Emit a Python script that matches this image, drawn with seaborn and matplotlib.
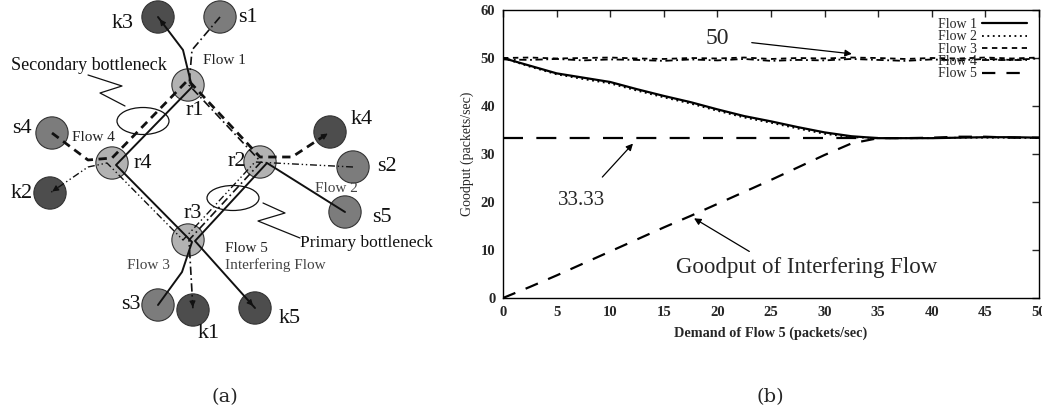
import numpy as np
import pandas as pd
import matplotlib
matplotlib.use('Agg')
import matplotlib.pyplot as plt
import seaborn as sns
from matplotlib.patches import Ellipse

# dados do grafico (b)
demanda = [0, 2.5, 5, 7.5, 10, 12.5, 15, 17.5, 20, 22.5, 25, 27.5, 30, 32.5, 35, 37.5, 40, 42.5, 45, 47.5, 50]
flow1 = [50.0, 48.4, 46.8, 45.9, 45.0, 43.5, 42.1, 40.8, 39.3, 37.9, 36.8, 35.6, 34.5, 33.7, 33.3, 33.3, 33.3, 33.4, 33.5, 33.5, 33.4]
flow2 = [50.0, 48.2, 46.6, 45.6, 44.7, 43.2, 41.8, 40.5, 39.0, 37.6, 36.5, 35.3, 34.2, 33.5, 33.3, 33.3, 33.3, 33.4, 33.4, 33.4, 33.3]
flow3 = [50.0, 50.1, 49.9, 50.0, 50.1, 49.9, 49.8, 50.0, 49.9, 50.1, 49.8, 50.0, 49.9, 50.1, 50.0, 49.8, 50.0, 49.9, 50.1, 49.9, 50.1]
flow4 = [49.7, 49.6, 49.8, 49.5, 49.7, 49.6, 49.4, 49.7, 49.5, 49.8, 49.4, 49.6, 49.5, 49.8, 49.6, 49.4, 49.7, 49.5, 49.8, 49.6, 49.9]
flow5 = [0.0, 2.3, 4.7, 7.2, 9.7, 12.2, 14.7, 17.1, 19.6, 22.1, 24.6, 27.2, 29.8, 32.2, 33.3, 33.3, 33.4, 33.6, 33.6, 33.4, 33.4]
fair_share = 33.33
fair_share_fim = 35

# dados do diagrama (a)
nos = ['k3', 's1', 'r1', 'r4', 'r2', 'r3', 's4', 'k2', 'k4', 's2', 's5', 's3', 'k1', 'k5']
nos_x = [158, 220, 188, 112, 260, 188, 52, 50, 330, 353, 345, 158, 193, 255]
nos_y = [17, 17, 85, 163, 162, 240, 133, 193, 132, 167, 212, 305, 310, 308]
nos_tipo = ['sink', 'fonte', 'router', 'router', 'router', 'router', 'fonte', 'sink',
            'sink', 'fonte', 'fonte', 'fonte', 'sink', 'sink']
rotas = {
    'Flow 1': ['s1', 'r1', 'r2', 'r3', 'k1'],
    'Flow 2': ['s2', 'r2', 'r3', 'r4', 'k2'],
    'Flow 3': ['s3', 'r3', 'r4', 'r1', 'k3'],
    'Flow 4': ['s4', 'r4', 'r1', 'r2', 'k4'],
    'Flow 5': ['s5', 'r2', 'r3', 'k5'],
}

sns.set_style('white')
plt.rcParams['font.family'] = ['Liberation Serif', 'DejaVu Serif']

fig = plt.figure(figsize=(10.42, 4.15), dpi=100)

# ---------------- (a) diagrama ----------------
ax_a = fig.add_axes([0, 0, 437 / 1042, 1])
ax_a.set_xlim(0, 437)
ax_a.set_ylim(415, 0)
ax_a.axis('off')

pos = dict(zip(nos, zip(nos_x, nos_y)))
desvio = {'Flow 1': (1, 0), 'Flow 2': (-5, 0), 'Flow 3': (4, 2), 'Flow 4': (0, -5), 'Flow 5': (7, 1)}
dobra = {'s1': (192, 50), 'k3': (183, 50), 's3': (182, 272), 's4': (88, 160),
         'k2': (88, 167), 'k4': (292, 157)}
estilo = {
    'Flow 1': dict(ls=(0, (5, 2, 1, 2)), lw=1.2),
    'Flow 2': dict(ls=(0, (5, 2, 1, 2, 1, 2)), lw=1.0),
    'Flow 3': dict(ls='-', lw=1.4),
    'Flow 4': dict(ls=(0, (3, 2)), lw=2.0),
    'Flow 5': dict(ls='-', lw=1.4),
}

df_nos = pd.DataFrame({'x': nos_x, 'y': nos_y, 'tipo': nos_tipo})
sns.scatterplot(data=df_nos, x='x', y='y', hue='tipo', s=540, edgecolor='#333333', linewidth=0.8,
                palette={'sink': '#4d4d4d', 'fonte': '#7c7c7c', 'router': '#b2b2b2'},
                legend=False, ax=ax_a, zorder=2)
ax_a.set_xlabel('')
ax_a.set_ylabel('')

for flow, rota in rotas.items():
    dx, dy = desvio[flow]
    pts = [pos[rota[0]]]
    if rota[0] in dobra:
        pts.append(dobra[rota[0]])
    for r in rota[1:-1]:
        pts.append((pos[r][0] + dx, pos[r][1] + dy))
    if rota[-1] in dobra:
        pts.append(dobra[rota[-1]])
    pts.append(pos[rota[-1]])
    pts = np.array(pts, dtype=float)
    ax_a.plot(pts[:, 0], pts[:, 1], color='#111111', zorder=3, **estilo[flow])
    # seta no destino
    d = pts[-1] - pts[-2]
    d = d / np.hypot(*d)
    ax_a.annotate('', xy=pts[-1], xytext=pts[-1] - 8 * d,
                  arrowprops=dict(arrowstyle='-|>', color='#111111', lw=0.8, mutation_scale=9), zorder=4)

rotulo_pos = {'k3': (123, 23), 's1': (248, 17), 'r1': (195, 110), 'r4': (143, 163), 'r2': (237, 161),
              'r3': (193, 213), 's4': (22, 128), 'k2': (22, 193), 'k4': (362, 119), 's2': (387, 166),
              's5': (382, 217), 's3': (131, 304), 'k1': (209, 333), 'k5': (290, 318)}
for n, (tx, ty) in rotulo_pos.items():
    ax_a.text(tx, ty, n, fontsize=16, ha='center', va='center', color='#111111', zorder=5)

ax_a.text(203, 60, 'Flow 1', fontsize=11, ha='left', va='center', color='#222222')
ax_a.text(72, 137, 'Flow 4', fontsize=11, ha='left', va='center', color='#222222')
ax_a.text(315, 188, 'Flow 2', fontsize=11, ha='left', va='center', color='#444444')
ax_a.text(127, 265, 'Flow 3', fontsize=11, ha='left', va='center', color='#444444')
ax_a.text(225, 248, 'Flow 5', fontsize=11, ha='left', va='center', color='#222222')
ax_a.text(225, 265, 'Interfering Flow', fontsize=11, ha='left', va='center', color='#444444')
ax_a.text(11, 65, 'Secondary bottleneck', fontsize=13, ha='left', va='center', color='#111111')
ax_a.text(300, 243, 'Primary bottleneck', fontsize=12.5, ha='left', va='center', color='#111111')

ax_a.add_patch(Ellipse((143, 121), 52, 27, angle=0, fill=False, lw=0.9, ec='#111111', zorder=4))
ax_a.add_patch(Ellipse((233, 198), 52, 25, angle=0, fill=False, lw=0.9, ec='#111111', zorder=4))
ax_a.plot([88, 122, 100, 125], [75, 86, 93, 106], color='#111111', lw=0.9, zorder=4)
ax_a.plot([300, 258, 285, 263], [238, 221, 213, 203], color='#111111', lw=0.9, zorder=4)

ax_a.text(225, 397, '(a)', fontsize=14, ha='center', va='center', family='DejaVu Serif')

# ---------------- (b) goodput ----------------
ax_b = fig.add_axes([503 / 1042, (415 - 298) / 415, 536 / 1042, 288 / 415])

dados = pd.DataFrame({'demanda': demanda, 'Flow 1': flow1, 'Flow 2': flow2,
                      'Flow 3': flow3, 'Flow 4': flow4, 'Flow 5': flow5})
estilos_b = {
    'Flow 1': dict(ls='-', lw=1.6),
    'Flow 2': dict(ls=(0, (1, 2)), lw=1.3),
    'Flow 3': dict(ls=(0, (3, 2.5)), lw=1.3),
    'Flow 4': dict(ls=(0, (4, 2, 1, 2)), lw=1.3),
    'Flow 5': dict(ls=(0, (6, 5)), lw=1.6),
}
for f in ['Flow 1', 'Flow 2', 'Flow 3', 'Flow 4', 'Flow 5']:
    sns.lineplot(data=dados, x='demanda', y=f, color='black', label=f, ax=ax_b, **estilos_b[f])

ax_b.hlines(fair_share, 0, fair_share_fim, colors='black', linestyles=(0, (9, 6)), lw=1.6)

ax_b.set_xlim(0, 50)
ax_b.set_ylim(0, 60)
ax_b.set_xticks(range(0, 51, 5))
ax_b.set_yticks(range(0, 61, 10))
ax_b.tick_params(direction='in', length=5, width=1, top=True, right=True, labelsize=10.5)
ax_b.tick_params(axis='x', pad=6)
ax_b.tick_params(axis='y', pad=5.5)
for lab in ax_b.get_xticklabels() + ax_b.get_yticklabels():
    lab.set_fontweight('bold')
for s in ax_b.spines.values():
    s.set_color('black')
    s.set_linewidth(1.0)
ax_b.set_xlabel('Demand of Flow 5 (packets/sec)', fontsize=10.3, fontweight='bold', labelpad=5)
ax_b.set_ylabel('Goodput (packets/sec)', fontsize=10, labelpad=5)

leg = ax_b.legend(loc='upper right', bbox_to_anchor=(1.0, 1.015), frameon=False, markerfirst=False,
                  fontsize=10, labelspacing=-0.05, handlelength=3.2, handletextpad=0.4)

ax_b.annotate('50', xy=(32.8, 50.8), xytext=(20.0, 54.0), fontsize=17, ha='center', va='center',
              arrowprops=dict(arrowstyle='-|>', color='black', lw=0.9, mutation_scale=10, shrinkA=14))
ax_b.annotate('33.33', xy=(12.3, 32.6), xytext=(7.3, 20.4), fontsize=15, ha='center', va='center',
              arrowprops=dict(arrowstyle='-|>', color='black', lw=0.9, mutation_scale=10, shrinkA=10))
ax_b.annotate('', xy=(17.6, 16.9), xytext=(23.2, 9.4),
              arrowprops=dict(arrowstyle='-|>', color='black', lw=0.9, mutation_scale=10))
ax_b.text(28.3, 6.3, 'Goodput of Interfering Flow', fontsize=16.5, ha='center', va='center')

fig.text(770 / 1042, 1 - 397 / 415, '(b)', fontsize=14, ha='center', va='center', family='DejaVu Serif')

fig.savefig('out.png', dpi=100)
